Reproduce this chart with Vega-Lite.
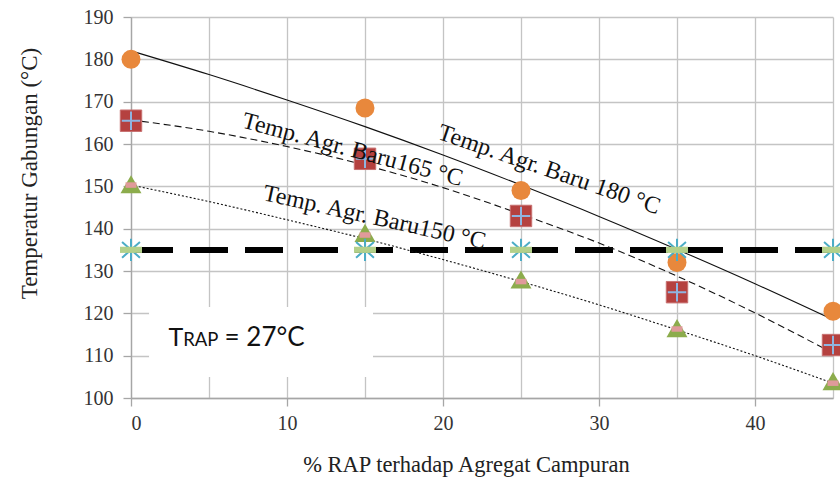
{
  "$schema": "https://vega.github.io/schema/vega-lite/v6.json",
  "autosize": "none",
  "width": 702,
  "height": 381,
  "padding": {"left": 131, "top": 17, "right": 7, "bottom": 90},
  "background": "white",
  "config": {"view": {"stroke": null}, "font": "Liberation Serif"},
  "datasets": {
    "pts": [
      {"pct": 0, "temp": 180, "series": "Baru 180"},
      {"pct": 15, "temp": 168.5, "series": "Baru 180"},
      {"pct": 25, "temp": 149, "series": "Baru 180"},
      {"pct": 35, "temp": 132, "series": "Baru 180"},
      {"pct": 45, "temp": 120.5, "series": "Baru 180"},
      {"pct": 0, "temp": 165.5, "series": "Baru 165"},
      {"pct": 15, "temp": 156.5, "series": "Baru 165"},
      {"pct": 25, "temp": 143, "series": "Baru 165"},
      {"pct": 35, "temp": 125, "series": "Baru 165"},
      {"pct": 45, "temp": 112.5, "series": "Baru 165"},
      {"pct": 0, "temp": 150.5, "series": "Baru 150"},
      {"pct": 15, "temp": 139, "series": "Baru 150"},
      {"pct": 25, "temp": 128, "series": "Baru 150"},
      {"pct": 35, "temp": 116.5, "series": "Baru 150"},
      {"pct": 45, "temp": 104, "series": "Baru 150"},
      {"pct": 0, "temp": 135, "series": "Batas"},
      {"pct": 15, "temp": 135, "series": "Batas"},
      {"pct": 25, "temp": 135, "series": "Batas"},
      {"pct": 35, "temp": 135, "series": "Batas"},
      {"pct": 45, "temp": 135, "series": "Batas"},
      {"pct": 0, "temp": 150.3, "series": "Fit 150"},
      {"pct": 15, "temp": 138.5, "series": "Fit 150"},
      {"pct": 25, "temp": 127.5, "series": "Fit 150"},
      {"pct": 35, "temp": 116.3, "series": "Fit 150"},
      {"pct": 45, "temp": 103.5, "series": "Fit 150"}
    ],
    "trend": [
      {"pct": 0, "temp": 182, "line": "180"},
      {"pct": 5, "temp": 176.4, "line": "180"},
      {"pct": 10, "temp": 170.4, "line": "180"},
      {"pct": 15, "temp": 164.1, "line": "180"},
      {"pct": 20, "temp": 157.4, "line": "180"},
      {"pct": 25, "temp": 150.3, "line": "180"},
      {"pct": 30, "temp": 142.9, "line": "180"},
      {"pct": 35, "temp": 135.1, "line": "180"},
      {"pct": 40, "temp": 127.0, "line": "180"},
      {"pct": 45, "temp": 118.5, "line": "180"},
      {"pct": 0, "temp": 165.7, "line": "165"},
      {"pct": 5, "temp": 163.0, "line": "165"},
      {"pct": 10, "temp": 159.4, "line": "165"},
      {"pct": 15, "temp": 155.0, "line": "165"},
      {"pct": 20, "temp": 149.7, "line": "165"},
      {"pct": 25, "temp": 143.4, "line": "165"},
      {"pct": 30, "temp": 136.6, "line": "165"},
      {"pct": 35, "temp": 128.8, "line": "165"},
      {"pct": 40, "temp": 120.1, "line": "165"},
      {"pct": 45, "temp": 110.6, "line": "165"},
      {"pct": 0, "temp": 150.3, "line": "150"},
      {"pct": 5, "temp": 146.4, "line": "150"},
      {"pct": 10, "temp": 142.1, "line": "150"},
      {"pct": 15, "temp": 137.6, "line": "150"},
      {"pct": 20, "temp": 132.7, "line": "150"},
      {"pct": 25, "temp": 127.5, "line": "150"},
      {"pct": 30, "temp": 122.0, "line": "150"},
      {"pct": 35, "temp": 116.1, "line": "150"},
      {"pct": 40, "temp": 110.0, "line": "150"},
      {"pct": 45, "temp": 103.5, "line": "150"}
    ]
  },
  "data": {"name": "pts"},
  "layer": [
    {
      "mark": {"type": "rect", "color": "white"},
      "encoding": {
        "x": {"datum": 1.2, "type": "quantitative", "scale": {"domain": [0, 45], "nice": false, "zero": false},
          "axis": {
            "title": "% RAP terhadap  Agregat  Campuran",
            "values": [0, 5, 10, 15, 20, 25, 30, 35, 40, 45],
            "labelExpr": "datum.value % 10 === 0 && datum.value < 45 ? datum.label : ''",
            "grid": true,
            "gridColor": "#c4c4c4",
            "gridWidth": 1.3,
            "domainColor": "#a6a6a6",
            "domainWidth": 1.3,
            "tickColor": {"condition": {"test": "datum.value % 10 === 0 && datum.value < 45", "value": "#a6a6a6"}, "value": "transparent"},
            "tickSize": 8,
            "tickWidth": 1.3,
            "labelFont": "Liberation Serif",
            "labelFontSize": 20,
            "labelColor": "#333333",
            "labelPadding": 7,
            "titleFont": "Liberation Serif",
            "titleFontSize": 22.5,
            "titleFontWeight": "normal",
            "titleColor": "#222222",
            "titlePadding": 20,
            "titleX": 335
          }},
        "x2": {"datum": 15.5},
        "y": {"datum": 105, "type": "quantitative", "scale": {"domain": [100, 190], "nice": false, "zero": false},
          "axis": {
            "title": "Temperatur Gabungan (°C)",
            "values": [100, 110, 120, 130, 140, 150, 160, 170, 180, 190],
            "grid": true,
            "gridColor": "#c4c4c4",
            "gridWidth": 1.3,
            "domainColor": "#a6a6a6",
            "domainWidth": 1.3,
            "tickColor": "#a6a6a6",
            "tickSize": 8,
            "tickWidth": 1.3,
            "labelFont": "Liberation Serif",
            "labelFontSize": 20,
            "labelColor": "#333333",
            "labelPadding": 10,
            "titleFont": "Liberation Serif",
            "titleFontSize": 23,
            "titleFontWeight": "normal",
            "titleColor": "#222222",
            "titlePadding": 42,
            "titleY": 156
          }},
        "y2": {"datum": 121.5}
      }
    },
    {
      "mark": {"type": "rule", "color": "black", "strokeWidth": 5, "strokeDash": [38, 17]},
      "encoding": {"y": {"datum": 135, "type": "quantitative"}}
    },
    {
      "data": {"name": "trend"},
      "transform": [{"filter": "datum.line === '180'"}],
      "mark": {"type": "line", "color": "#111111", "strokeWidth": 1.1, "interpolate": "monotone"},
      "encoding": {"x": {"field": "pct", "type": "quantitative"}, "y": {"field": "temp", "type": "quantitative"}}
    },
    {
      "data": {"name": "trend"},
      "transform": [{"filter": "datum.line === '165'"}],
      "mark": {"type": "line", "color": "#111111", "strokeWidth": 1.1, "strokeDash": [7, 4], "interpolate": "monotone"},
      "encoding": {"x": {"field": "pct", "type": "quantitative"}, "y": {"field": "temp", "type": "quantitative"}}
    },
    {
      "data": {"name": "trend"},
      "transform": [{"filter": "datum.line === '150'"}],
      "mark": {"type": "line", "color": "#111111", "strokeWidth": 1.1, "strokeDash": [2, 2], "interpolate": "monotone"},
      "encoding": {"x": {"field": "pct", "type": "quantitative"}, "y": {"field": "temp", "type": "quantitative"}}
    },
    {
      "transform": [{"filter": "datum.series === 'Baru 180'"}],
      "mark": {"type": "point", "shape": "circle", "filled": true, "color": "#e8883c", "opacity": 1, "size": 360},
      "encoding": {"x": {"field": "pct", "type": "quantitative"}, "y": {"field": "temp", "type": "quantitative"}}
    },
    {
      "transform": [{"filter": "datum.series === 'Baru 165'"}],
      "mark": {"type": "point", "shape": "square", "filled": true, "color": "#b5413f", "opacity": 1, "size": 460, "stroke": "#c77070", "strokeWidth": 1},
      "encoding": {"x": {"field": "pct", "type": "quantitative"}, "y": {"field": "temp", "type": "quantitative"}}
    },
    {
      "transform": [{"filter": "datum.series === 'Baru 165'"}],
      "mark": {"type": "point", "shape": "M-1,0L1,0M0,-1L0,1", "filled": false, "color": "#8fb4e0", "opacity": 1, "size": 340, "strokeWidth": 2},
      "encoding": {"x": {"field": "pct", "type": "quantitative"}, "y": {"field": "temp", "type": "quantitative"}}
    },
    {
      "transform": [{"filter": "datum.series === 'Baru 150'"}],
      "mark": {"type": "point", "shape": "triangle-up", "filled": true, "color": "#8cac4c", "opacity": 1, "size": 440},
      "encoding": {"x": {"field": "pct", "type": "quantitative"}, "y": {"field": "temp", "type": "quantitative"}}
    },
    {
      "transform": [{"filter": "datum.series === 'Fit 150'"}],
      "mark": {"type": "point", "shape": "M-1,-0.5L1,-0.5L1,0.5L-1,0.5Z", "filled": true, "color": "#e09a9a", "opacity": 1, "size": 120},
      "encoding": {"x": {"field": "pct", "type": "quantitative"}, "y": {"field": "temp", "type": "quantitative"}}
    },
    {
      "transform": [{"filter": "datum.series === 'Batas'"}],
      "mark": {"type": "point", "shape": "M0,-1L0,1M-0.8,-0.7L0.8,0.7M-0.8,0.7L0.8,-0.7", "filled": false, "color": "#4bacc6", "opacity": 1, "size": 500, "strokeWidth": 2},
      "encoding": {"x": {"field": "pct", "type": "quantitative"}, "y": {"field": "temp", "type": "quantitative"}}
    },
    {
      "transform": [{"filter": "datum.series === 'Batas'"}],
      "mark": {"type": "point", "shape": "M-1,-0.28L1,-0.28L1,0.28L-1,0.28Z", "filled": true, "color": "#b3d08a", "opacity": 1, "size": 484},
      "encoding": {"x": {"field": "pct", "type": "quantitative"}, "y": {"field": "temp", "type": "quantitative"}}
    },
    {
      "data": {"values": [
        {"pct": 26.8, "temp": 153.9, "label": "Temp. Agr. Baru 180 °C", "ang": 19},
        {"pct": 14.2, "temp": 158.6, "label": "Temp. Agr. Baru165 °C", "ang": 15},
        {"pct": 15.6, "temp": 142.6, "label": "Temp. Agr. Baru150 °C", "ang": 12.5}
      ]},
      "mark": {"type": "text", "font": "Liberation Serif", "fontSize": 24, "color": "#111111", "align": "center", "baseline": "middle"},
      "encoding": {
        "x": {"field": "pct", "type": "quantitative"},
        "y": {"field": "temp", "type": "quantitative"},
        "text": {"field": "label"},
        "angle": {"field": "ang", "type": "quantitative", "scale": null}
      }
    },
    {
      "data": {"values": [
        {"pct": 2.4, "temp": 112.35, "part": "T", "fs": 25},
        {"pct": 3.35, "temp": 112.35, "part": "RAP", "fs": 18.5},
        {"pct": 6.0, "temp": 112.35, "part": "= 27°C", "fs": 26}
      ]},
      "mark": {"type": "text", "font": "Lato", "color": "#111111", "align": "left", "baseline": "alphabetic"},
      "encoding": {
        "x": {"field": "pct", "type": "quantitative"},
        "y": {"field": "temp", "type": "quantitative"},
        "text": {"field": "part"},
        "size": {"field": "fs", "type": "quantitative", "scale": null}
      }
    }
  ]
}
